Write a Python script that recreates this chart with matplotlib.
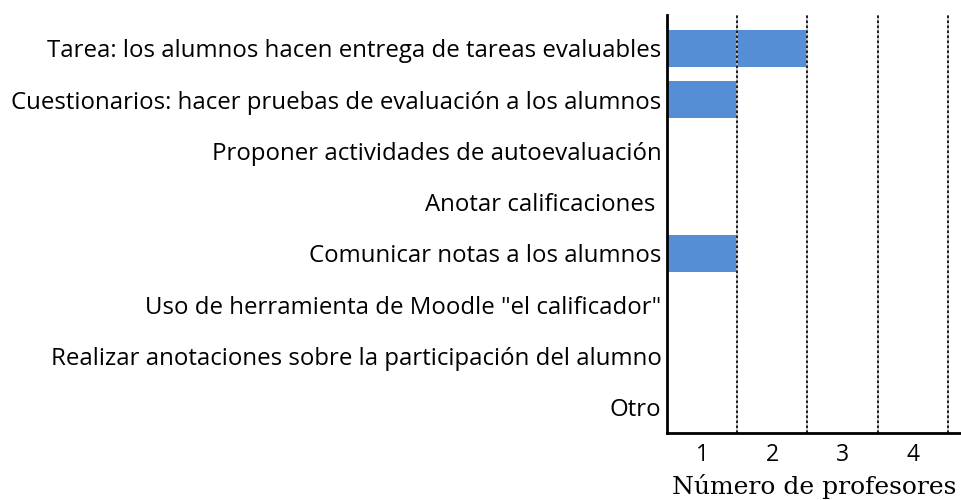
import matplotlib.pyplot as plt

categories = [
    "Tarea: los alumnos hacen entrega de tareas evaluables",
    "Cuestionarios: hacer pruebas de evaluación a los alumnos",
    "Proponer actividades de autoevaluación",
    "Anotar calificaciones ",
    "Comunicar notas a los alumnos",
    'Uso de herramienta de Moodle "el calificador"',
    "Realizar anotaciones sobre la participación del alumno",
    "Otro",
]
values = [2, 1, 0, 0, 1, 0, 0, 0]
grid_positions = [1, 2, 3, 4]
tick_labels = ["1", "2", "3", "4"]

fig = plt.figure(figsize=(9.62, 5.0), dpi=100)
ax = fig.add_axes([0.6933, 0.134, 0.3067, 0.836])

ypos = list(range(len(categories)))
ax.barh(ypos, values, height=0.72, color="#558ED5", zorder=1)

for g in grid_positions:
    ax.axvline(g, color="#BFBFBF", linewidth=1.2, zorder=2)
    ax.axvline(g, color="black", linewidth=1.2, linestyle=(0, (1.5, 1.5)), zorder=3)

ax.set_xlim(0, 4.2)
ax.set_ylim(7.5, -0.65)

ax.set_yticks(ypos)
ax.set_yticklabels(categories, fontfamily="Open Sans", fontsize=17.3)
ax.set_xticks([g - 0.5 for g in grid_positions])
ax.set_xticklabels(tick_labels, fontfamily="Open Sans", fontsize=16.5)
ax.tick_params(axis="y", length=0, pad=4)
ax.tick_params(axis="x", length=0, pad=7)

ax.set_xlabel("Número de profesores", fontfamily="DejaVu Serif", fontsize=18, labelpad=5)

for side in ["top", "right"]:
    ax.spines[side].set_visible(False)
ax.spines["left"].set_linewidth(2)
ax.spines["bottom"].set_linewidth(2)
ax.spines["left"].set_zorder(4)

fig.savefig("out.png", dpi=100)
